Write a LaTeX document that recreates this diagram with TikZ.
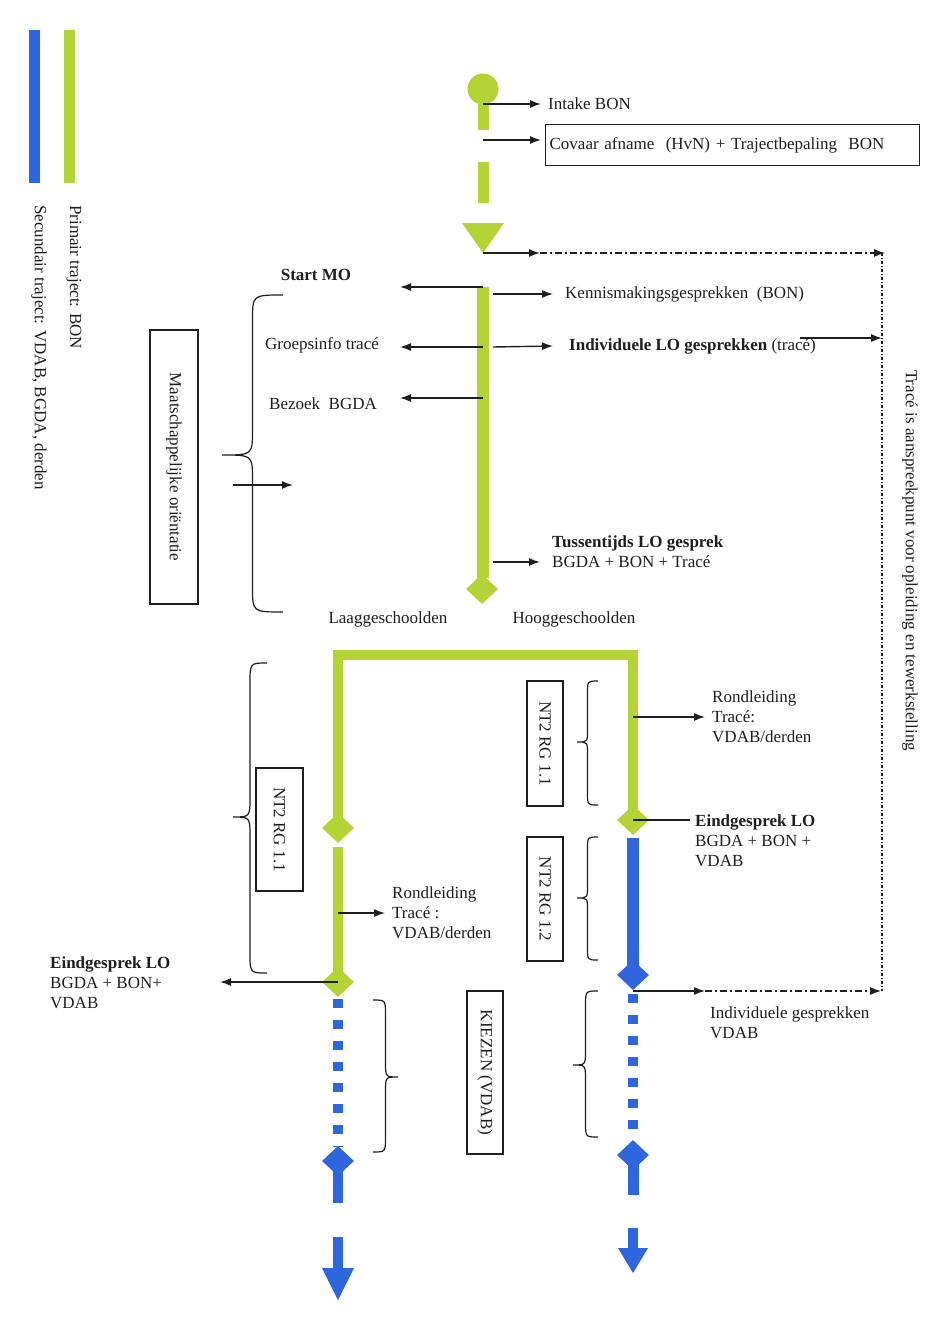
\documentclass[tikz,border=0pt]{standalone}
\usepackage{fontspec}
\setmainfont{Liberation Serif}
\usetikzlibrary{arrows.meta,shapes.geometric}
\definecolor{lime}{RGB}{180,211,52}
\definecolor{bblue}{RGB}{46,102,222}
\definecolor{ink}{RGB}{30,30,30}
\newcommand\curlyb[6]{%
 \draw[brc] (#3,#4) .. controls ({(#1+#3)/2},#4) .. ({(#1+#3)/2},{#4+#6})
   -- ({(#1+#3)/2},{#2-#6}) .. controls ({(#1+#3)/2},#2) .. (#1,#2)
   .. controls ({(#1+#3)/2},#2) .. ({(#1+#3)/2},{#2+#6})
   -- ({(#1+#3)/2},{#5-#6}) .. controls ({(#1+#3)/2},#5) .. (#3,#5);}
\begin{document}
\begin{tikzpicture}[x=1pt,y=-1pt,font=\fontsize{17}{20}\selectfont,
 txt/.style={text=ink,inner ysep=0pt,inner xsep=4pt},
 tip/.style={-{Latex[length=11pt,width=8pt]}},
 arr/.style={draw=ink,line width=1.4pt,tip},
 box/.style={draw=ink,line width=1.3pt,text=ink,inner sep=0pt},
 brc/.style={draw=ink,line width=1.2pt},
 gline/.style={draw=lime,line width=11pt},
 bline/.style={draw=bblue,line width=11pt},
 dd/.style={draw=ink,line width=1.2pt,dash pattern=on 7pt off 3pt on 2pt off 3pt},
 dv/.style={draw=ink,line width=1.2pt,dash pattern=on 3pt off 2pt on 1pt off 2pt},
 gdia/.style={diamond,fill=lime,minimum width=32pt,minimum height=30pt,inner sep=0pt},
 bdia/.style={diamond,fill=bblue,minimum width=32pt,minimum height=30pt,inner sep=0pt},
 bdots/.style={draw=bblue,line width=10pt,dash pattern=on 9pt off 12pt}]

\fill[white] (0,0) rectangle (936,1327);
\useasboundingbox (0,0) rectangle (936,1327);

% legend
\fill[bblue] (29,30) rectangle (40,183);
\fill[lime] (64,30) rectangle (75,183);
\node[txt,rotate=-90,anchor=west] (leg1) at (74,201) {Primair traject: BON};
\node[txt,rotate=-90,anchor=west] (leg2) at (39,201) {Secundair traject: VDAB, BGDA, derden};

% top part
\node[circle,fill=lime,minimum size=31pt,inner sep=0pt] (start) at (483,89) {};
\draw[gline] (start.center) -- (483,130);
\draw[gline] (483,162) -- (483,203);
\fill[lime] (462,223) -- (504,223) -- (483,253) -- cycle;
\coordinate (tri) at (483,253);
\coordinate (a1) at (483,104);
\node[txt,anchor=west,inner xsep=7pt] (intake) at (541,104) {Intake BON};
\draw[arr] (a1) -- (intake.west);
\coordinate (a2) at (483,140);
\node[box,anchor=west,minimum height=41pt,text width=366pt,inner xsep=4pt,align=left] (covaar) at (545,145) {Covaar afname\ \ (HvN) + Trajectbepaling\ \ BON};
\draw[arr,shorten >=4pt] (a2) -- (covaar.west |- a2);

\coordinate (d1) at (540,253);
\coordinate (d2) at (885,253);
\draw[arr] (tri) -- (d1);
\draw[dd,tip] (d1) -- (d2);
\coordinate (d3) at (882,991);
\draw[dv] (882,253) -- (d3);
\node[txt,rotate=-90,anchor=west] (tracenote) at (910,366) {Tracé is aanspreekpunt voor opleiding en tewerkstelling};

% upper trunk
\draw[gline,line width=12pt] (483,287) -- (483,578);
\node[gdia] (mdia) at (482,589) {};
\coordinate (l1) at (483,287); \coordinate (l1e) at (400,287);
\coordinate (l2) at (483,347); \coordinate (l2e) at (400,347);
\coordinate (l3) at (483,398); \coordinate (l3e) at (400,398);
\draw[arr] (l1) -- (l1e);
\draw[arr] (l2) -- (l2e);
\draw[arr] (l3) -- (l3e);
\node[txt] (startmo) at (316,275) {\textbf{Start MO}};
\node[txt] (groeps) at (322,345) {Groepsinfo tracé};
\node[txt] (bezoek) at (323,404) {Bezoek\ \ BGDA};

\coordinate (r1) at (493,294);
\node[txt,anchor=west,inner xsep=12pt] (kenn) at (553,294) {Kennismakingsgesprekken\ \ (BON)};
\draw[arr] (r1) -- (kenn.west);
\coordinate (r2) at (493,347);
\node[txt,anchor=west,inner xsep=16pt] (indiv) at (553,346) {\textbf{Individuele LO gesprekken} (tracé)};
\draw[arr] (r2) -- (indiv.west);
\coordinate (r2b) at (800,338);
\draw[arr] (r2b) -- (d3 |- r2b);
\coordinate (r3) at (493,562);
\node[txt,anchor=west,inner xsep=12pt,align=left] (tuss) at (540,552) {\textbf{Tussentijds LO gesprek}\\BGDA + BON + Tracé};
\draw[arr] (r3) -- (tuss.west |- r3);

\curlyb{222}{455}{283}{295}{612}{25}
\node[box,rotate=-90,minimum width=274pt,minimum height=48pt] (mo) at (174,467) {Maatschappelijke oriëntatie};
\coordinate (b1) at (233,485); \coordinate (b1e) at (293,485);
\draw[arr] (b1) -- (b1e);

\node[txt] (laag) at (388,619) {Laaggeschoolden};
\node[txt] (hoog) at (574,619) {Hooggeschoolden};

% lower part
\coordinate (pL1) at (338,828);
\coordinate (pR1) at (633,820);
\coordinate (pL2) at (338,982);
\coordinate (pR2) at (633,975);
\coordinate (pL3) at (338,1161);
\coordinate (pR3) at (633,1155);
\draw[gline,line width=10pt] (pL1) -- (338,655) -- (633,655) -- (pR1);
\draw[gline,line width=10pt] (338,847) -- (pL2);
\draw[bline,line width=12pt] (633,838) -- (pR2);
\draw[bdots] (338,999) -- (338,1147);
\draw[bdots] (633,994) -- (633,1140);
\draw[bline,line width=10pt] (pL3) -- (338,1203);
\draw[bline,line width=11pt] (pR3) -- (633,1195);
\node[gdia] (gl1) at (pL1) {};
\node[gdia] (gr1) at (pR1) {};
\node[gdia] (gl2) at (pL2) {};
\node[bdia] (br1) at (pR2) {};
\node[bdia] (bl2) at (pL3) {};
\node[bdia] (br2) at (pR3) {};
\fill[bblue] (333,1237) rectangle (343,1270);
\fill[bblue] (322,1268) -- (354,1268) -- (338,1300) -- cycle;
\fill[bblue] (628,1228) rectangle (638,1250);
\fill[bblue] (618,1248) -- (648,1248) -- (633,1273) -- cycle;

\curlyb{233}{817}{267}{663}{973}{20}
\curlyb{577}{742}{598}{681}{805}{12}
\curlyb{577}{898}{598}{837}{960}{12}
\curlyb{398}{1077}{373}{1000}{1152}{15}
\curlyb{573}{1065}{598}{991}{1137}{15}

\node[box,rotate=-90,minimum width=123pt,minimum height=47pt] (nt1) at (279.5,829.5) {NT2 RG 1.1};
\node[box,rotate=-90,minimum width=125pt,minimum height=36pt] (nt2) at (545,743.5) {NT2 RG 1.1};
\node[box,rotate=-90,minimum width=124pt,minimum height=36pt] (nt3) at (545,899) {NT2 RG 1.2};
\node[box,rotate=-90,minimum width=163pt,minimum height=36pt] (kiezen) at (485,1072.5) {KIEZEN (VDAB)};

\coordinate (rr) at (633,717);
\node[txt,anchor=west,align=left,inner xsep=7pt] (rondR) at (705,717) {Rondleiding\\Tracé:\\VDAB/derden};
\draw[arr] (rr) -- (rondR.west);
\coordinate (rl) at (338,913);
\node[txt,anchor=west,align=left,inner xsep=7pt] (rondL) at (385,913) {Rondleiding\\Tracé :\\VDAB/derden};
\draw[arr] (rl) -- (rondL.west);
\node[txt,anchor=west,align=left,inner xsep=5pt] (eindR) at (690,841) {\textbf{Eindgesprek LO}\\BGDA + BON +\\VDAB};
\draw[draw=ink,line width=1.2pt] (gr1.center) -- (eindR.west |- gr1.center);
\node[txt,anchor=west,align=left,inner xsep=0pt] (eindL) at (50,983) {\textbf{Eindgesprek LO}\\BGDA + BON+\\VDAB};
\coordinate (el) at (220,982);
\draw[arr] (gl2.center) -- (el);
\coordinate (bi) at (633,991);
\coordinate (bi1) at (705,991);
\coordinate (bi2) at (881,991);
\draw[arr] (bi) -- (bi1);
\draw[dd,tip] (bi1) -- (bi2);
\node[txt,anchor=west,align=left] (indG) at (706,1023) {Individuele gesprekken\\VDAB};
\end{tikzpicture}
\end{document}
